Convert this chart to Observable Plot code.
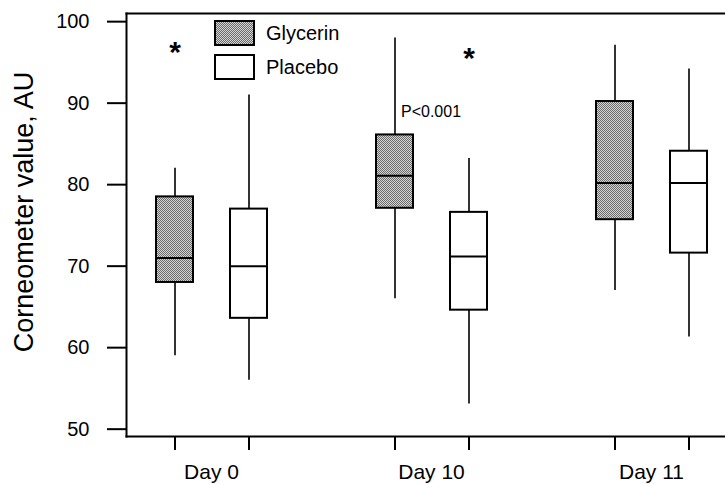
<!DOCTYPE html>
<html>
<head>
<meta charset="utf-8">
<script src="https://cdn.jsdelivr.net/npm/d3@7"></script>
<script src="https://cdn.jsdelivr.net/npm/@observablehq/plot@0.6"></script>
<style>
  html, body { margin: 0; padding: 0; background: #fff; }
  #wrap { position: relative; width: 725px; height: 484px; font-family: "Liberation Sans", Arial, sans-serif; }
  #wrap svg { position: absolute; left: 0; top: 0; }
  .legend { position: absolute; left: 214px; top: 20px; }
  .legend .row { display: flex; align-items: center; height: 26px; margin-bottom: 8px; }
  .legend .sw { width: 37px; height: 22px; border: 2px solid #000; margin-right: 11px; }
  .legend .lab { font-size: 20px; color: #000; }
</style>
</head>
<body>
<div id="wrap"></div>
<script>
// ---- data ----
const days = ["Day 0", "Day 10", "Day 11"];
const groups = ["Glycerin", "Placebo"];

const glycerinMin    = [59.0, 66.0, 67.0];
const glycerinQ1     = [68.0, 77.1, 75.7];
const glycerinMedian = [71.0, 81.1, 80.2];
const glycerinQ3     = [78.5, 86.1, 90.2];
const glycerinMax    = [82.0, 98.0, 97.1];

const placeboMin     = [56.0, 53.1, 61.3];
const placeboQ1      = [63.6, 64.6, 71.6];
const placeboMedian  = [70.0, 71.2, 80.2];
const placeboQ3      = [77.0, 76.6, 84.1];
const placeboMax     = [91.0, 83.2, 94.2];

const yTicks = [50, 60, 70, 80, 90, 100];
const yDomain = [49.1, 101];

const starDays   = ["Day 0", "Day 10"];
const starGroups = ["Glycerin", "Placebo"];
const starValues = [96.2, 95.45];

const pDay = "Day 10", pGroup = "Glycerin", pValue = 88.9, pText = "P<0.001";
const yLabel = "Corneometer value, AU";

// ---- build table ----
const rows = [];
days.forEach((day, i) => {
  rows.push({day, group: "Glycerin", min: glycerinMin[i], q1: glycerinQ1[i], median: glycerinMedian[i], q3: glycerinQ3[i], max: glycerinMax[i]});
  rows.push({day, group: "Placebo", min: placeboMin[i], q1: placeboQ1[i], median: placeboMedian[i], q3: placeboQ3[i], max: placeboMax[i]});
});
const stars = starDays.map((day, i) => ({day, group: starGroups[i], y: starValues[i]}));
const pNote = [{day: pDay, group: pGroup, y: pValue, text: pText}];

// pattern definition for the stippled fill
const defsMark = () => {
  const ns = "http://www.w3.org/2000/svg";
  const g = document.createElementNS(ns, "g");
  g.innerHTML = `<defs><pattern id="dots" width="2" height="2" patternUnits="userSpaceOnUse">
    <rect width="2" height="2" fill="#d6d6d6"/><rect width="1" height="1" fill="#6a6a6a"/><rect x="1" y="1" width="1" height="1" fill="#6a6a6a"/></pattern></defs>`;
  return g;
};

const chart = Plot.plot({
  width: 725,
  height: 484,
  marginLeft: 126,
  marginRight: 0,
  marginTop: 13,
  marginBottom: 48,
  style: {fontFamily: "'Liberation Sans', Arial, sans-serif", background: "transparent", color: "#000", overflow: "visible"},
  fx: {domain: days, paddingInner: 0.229, paddingOuter: -0.0272, align: 0},
  x: {domain: groups, paddingInner: 0.5, paddingOuter: 0.3986, align: 0.5},
  y: {domain: yDomain},
  color: {domain: groups, range: ["url(#dots)", "white"]},
  marks: [
    defsMark,
    Plot.frame({anchor: "bottom", facet: "super", stroke: "#000", strokeWidth: 2}),
    Plot.frame({anchor: "top", facet: "super", stroke: "#000", strokeWidth: 2}),
    Plot.frame({anchor: "left", facet: "super", stroke: "#000", strokeWidth: 2}),
    Plot.axisY({ticks: yTicks, tickSize: 19, tickPadding: 18, fontSize: 20, label: null, strokeWidth: 2}),
    Plot.text([yLabel], {facet: "super", frameAnchor: "left", textAnchor: "middle", rotate: -90, dx: -102, dy: -13, fontSize: 27}),
    Plot.axisX({tickSize: 14, tickFormat: () => "", label: null, strokeWidth: 2}),
    Plot.axisFx({anchor: "bottom", tickSize: 0, tickPadding: 28, fontSize: 21, label: null}),
    Plot.ruleX(rows, {fx: "day", x: "group", y1: "min", y2: "q1", stroke: "#000", strokeWidth: 1.6}),
    Plot.ruleX(rows, {fx: "day", x: "group", y1: "q3", y2: "max", stroke: "#000", strokeWidth: 1.6}),
    Plot.barY(rows, {fx: "day", x: "group", y1: "q1", y2: "q3", fill: "group", stroke: "#000", strokeWidth: 2}),
    Plot.tickY(rows, {fx: "day", x: "group", y: "median", stroke: "#000", strokeWidth: 2}),
    Plot.text(stars, {fx: "day", x: "group", y: "y", text: () => "*", fontSize: 30, fontWeight: "bold", lineAnchor: "middle"}),
    Plot.text(pNote, {fx: "day", x: "group", y: "y", text: "text", textAnchor: "start", dx: 6, fontSize: 16, lineAnchor: "middle"})
  ]
});

const wrap = document.getElementById("wrap");
wrap.appendChild(chart);

const legend = document.createElement("div");
legend.className = "legend";
const swatchFill = {Glycerin: "repeating-conic-gradient(#6a6a6a 0 25%, #d6d6d6 0 50%) 0 0 / 2px 2px", Placebo: "#fff"};
groups.forEach(g => {
  const row = document.createElement("div");
  row.className = "row";
  const sw = document.createElement("div");
  sw.className = "sw";
  sw.style.background = swatchFill[g];
  const lab = document.createElement("span");
  lab.className = "lab";
  lab.textContent = g;
  row.appendChild(sw);
  row.appendChild(lab);
  legend.appendChild(row);
});
wrap.appendChild(legend);
</script>
</body>
</html>
